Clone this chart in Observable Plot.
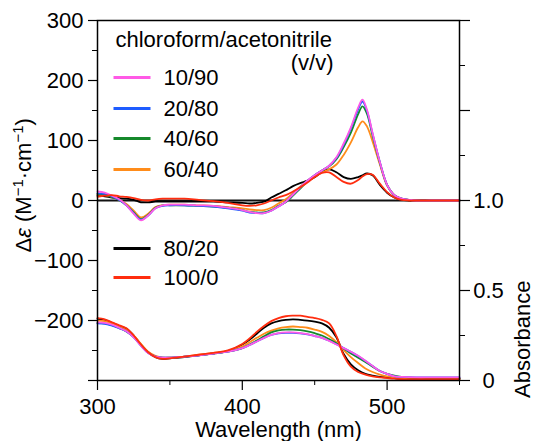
<!DOCTYPE html>
<html><head><meta charset="utf-8">
<script src="https://cdn.jsdelivr.net/npm/d3@7"></script>
<script src="https://cdn.jsdelivr.net/npm/@observablehq/plot@0.6"></script>
<style>
html,body{margin:0;padding:0;background:#fff;}
</style></head>
<body><div id="chart"></div>
<script>
// ---------------- data ----------------
const seriesNames = ["10/90", "20/80", "40/60", "60/40", "80/20", "100/0"];
const seriesColors = ["#ff5ae6", "#1e5cff", "#15892b", "#ff8c1a", "#000000", "#ff2d0f"];

// CD spectra (Δε, M^-1 cm^-1)
const wavelengthsCD = [300,305,310,315,320,325,330,335,340,345,350,360,370,380,390,400,405,410,415,420,425,430,435,440,445,450,455,460,465,470,475,480,483,486,490,495,500,505,510,515,520,530,540,550];
const cd_10_90 = [15,13,8,2,-8,-22,-33,-25,-13,-8,-7,-7,-8,-9,-12,-16,-19,-21,-21,-17,-10,-2,10,22,33,42,50,58,72,95,122,155,168,152,112,64,26,9,3,1,0,0,0,0];
const cd_20_80 = [12,11,7,1,-8,-21,-32,-25,-13,-9,-8,-8,-9,-10,-13,-17,-20,-21,-21,-17,-10,-2,10,22,33,42,50,58,71,93,120,152,165,150,111,64,26,9,3,1,0,0,0,0];
const cd_40_60 = [11,10,6,1,-8,-20,-31,-24,-12,-8,-8,-8,-9,-10,-12,-16,-19,-20,-20,-16,-9,-3,8,20,32,42,50,57,69,89,113,144,157,145,108,63,26,9,3,1,0,0,0,0];
const cd_60_40 = [10,9,6,1,-6,-17,-28,-22,-11,-8,-7,-7,-8,-9,-11,-13,-15,-16,-16,-12,-5,2,12,23,33,41,47,52,60,76,97,122,132,124,98,60,25,9,3,1,0,0,0,0];
const cd_80_20 = [8,7,5,4,3,1,-3,-3,-2,-2,-2,-2,-2,-2,-3,-4,-5,-4,-2,5,11,17,24,29,33,39,47,52,47,39,36,39,42,45,42,26,13,5,1,0,0,0,0,0];
const cd_100_0 = [6,8,9,7,6,4,1,0,2,3,3,3,1,-1,-4,-8,-9,-8,-5,0,5,9,15,22,30,39,46,47,39,31,28,34,40,44,43,28,14,5,1,0,0,0,0,0];

// Absorption spectra (absorbance)
const wavelengthsAbs = [300,305,310,315,320,325,330,335,340,345,350,360,370,380,390,400,405,410,415,420,425,430,435,440,445,450,455,460,465,470,475,480,485,490,495,500,505,510,520,530,540,550];
const abs_10_90 = [.323,.320,.310,.293,.273,.240,.193,.153,.133,.127,.127,.133,.140,.150,.160,.180,.197,.217,.237,.253,.263,.267,.267,.263,.257,.247,.237,.220,.200,.180,.160,.137,.110,.080,.053,.037,.023,.020,.017,.017,.017,.017];
const abs_20_80 = [.317,.314,.305,.290,.272,.240,.193,.153,.133,.127,.127,.133,.140,.150,.160,.180,.197,.217,.237,.253,.262,.265,.265,.262,.256,.247,.237,.221,.201,.180,.159,.136,.109,.080,.053,.037,.023,.020,.017,.017,.017,.017];
const abs_40_60 = [.320,.317,.307,.292,.273,.242,.196,.155,.133,.127,.127,.133,.140,.150,.160,.180,.200,.222,.245,.267,.278,.283,.283,.280,.273,.263,.250,.230,.207,.177,.150,.127,.103,.077,.053,.037,.027,.020,.013,.013,.013,.013];
const abs_60_40 = [.333,.330,.317,.300,.280,.250,.203,.160,.137,.127,.127,.133,.143,.153,.163,.190,.213,.237,.260,.277,.290,.297,.300,.297,.293,.283,.270,.247,.213,.170,.130,.097,.067,.047,.033,.023,.017,.013,.010,.010,.010,.010];
const abs_80_20 = [.343,.337,.320,.303,.287,.250,.200,.157,.130,.120,.123,.130,.140,.150,.163,.200,.227,.260,.293,.317,.330,.337,.340,.337,.333,.327,.317,.293,.240,.147,.090,.057,.037,.027,.020,.017,.013,.010,.010,.010,.010,.010];
const abs_100_0 = [.347,.340,.323,.307,.290,.250,.200,.157,.130,.120,.123,.133,.143,.153,.167,.203,.233,.270,.303,.330,.347,.357,.360,.360,.353,.347,.337,.317,.247,.140,.077,.047,.033,.023,.017,.013,.010,.007,.007,.007,.007,.007];

// axis ticks
const xTicksMajor = [300, 400, 500];
const xTicksMinor = [350, 450, 550];
const yTicksMajor = [-300, -200, -100, 0, 100, 200, 300];
const yTickLabels = ["", "\u2212200", "\u2212100", "0", "100", "200", "300"];
const yTicksMinor = [-250, -150, -50, 50, 150, 250];
const absTicksMajor = [0, 0.5, 1.0, 1.5, 2.0];
const absTickLabels = ["0", "0.5", "1.0", "", ""];
const absTicksMinor = [0.25, 0.75, 1.25, 1.75];

const legendTitle = "chloroform/acetonitrile";
const legendSubtitle = "(v/v)";
const xLabel = "Wavelength (nm)";
const yLabel = "Δε (M−1·cm−1)";
const y2Label = "Absorbance";

// ---------------- build ----------------
const cdSeries = [cd_10_90, cd_20_80, cd_40_60, cd_60_40, cd_80_20, cd_100_0];
const absSeries = [abs_10_90, abs_20_80, abs_40_60, abs_60_40, abs_80_20, abs_100_0];
// absorbance axis: 0 at Δε = -300, 1.0 at Δε = 0
const absToY = a => 300 * a - 300;

const yFmt = d => {
  const i = yTicksMajor.indexOf(d);
  return i >= 0 ? yTickLabels[i] : "";
};
const absFmt = d => {
  const i = absTicksMajor.findIndex(a => Math.abs(absToY(a) - d) < 1e-6);
  return i >= 0 ? absTickLabels[i] : "";
};

const drawOrder = [4, 3, 2, 1, 0, 5];
const lineMarks = [];
for (const i of drawOrder) {
  const cdRows = wavelengthsCD.map((w, j) => ({w, v: cdSeries[i][j]}));
  const absRows = wavelengthsAbs.map((w, j) => ({w, v: absToY(absSeries[i][j])}));
  lineMarks.push(Plot.line(cdRows, {x: "w", y: "v", stroke: seriesColors[i], strokeWidth: 1.8, curve: "catmull-rom"}));
  lineMarks.push(Plot.line(absRows, {x: "w", y: "v", stroke: seriesColors[i], strokeWidth: 1.8, curve: "catmull-rom"}));
}

// legend layout (pixel offsets from the top-left of the frame)
const legendRowOffsets = [57, 88, 118, 149, 228, 257];
const swatch = {draw(ctx) { ctx.moveTo(-18.5, 0); ctx.lineTo(18.5, 0); }};
const legendMarks = [];
seriesNames.forEach((name, i) => {
  legendMarks.push(Plot.dot([0], {frameAnchor: "top-left", dx: 34.5, dy: legendRowOffsets[i], symbol: swatch, r: 10, fill: "none", stroke: seriesColors[i], strokeWidth: 3}));
  legendMarks.push(Plot.text([name], {frameAnchor: "top-left", dx: 66, dy: legendRowOffsets[i], text: d => d, textAnchor: "start", lineAnchor: "middle", fill: "black"}));
});
legendMarks.push(Plot.text([legendTitle], {frameAnchor: "top-left", dx: 18, dy: 11, text: d => d, textAnchor: "start", lineAnchor: "top", fill: "black"}));
legendMarks.push(Plot.text([legendSubtitle], {frameAnchor: "top-left", dx: 236, dy: 34, text: d => d, textAnchor: "end", lineAnchor: "top", fill: "black"}));

const chart = Plot.plot({
  width: 533,
  height: 441,
  marginLeft: 97,
  marginRight: 74,
  marginTop: 20,
  marginBottom: 61,
  x: {domain: [300, 550]},
  y: {domain: [-300, 300]},
  style: {fontFamily: "'Liberation Sans', Arial, Helvetica, sans-serif", fontSize: "22px", color: "black", background: "white", overflow: "visible"},
  marks: [
    Plot.ruleY([0], {stroke: "#111", strokeWidth: 2}),
    ...lineMarks,
    Plot.frame({stroke: "black", strokeWidth: 1.5}),
    // left axis
    Plot.axisY({ticks: yTicksMajor, tickSize: 9, tickPadding: 5, tickFormat: yFmt, strokeWidth: 1.2, fontSize: 22, label: null}),
    Plot.axisY({ticks: yTicksMinor, tickSize: 5, tickFormat: () => "", strokeWidth: 1, label: null}),
    // right axis (absorbance)
    Plot.axisY({anchor: "right", ticks: absTicksMajor.map(absToY), tickSize: 10, tickPadding: 19, textAnchor: "middle", tickFormat: absFmt, strokeWidth: 1.2, fontSize: 22, label: null}),
    Plot.axisY({anchor: "right", ticks: absTicksMinor.map(absToY), tickSize: 5, tickFormat: () => "", strokeWidth: 1, label: null}),
    // bottom axis
    Plot.axisX({ticks: xTicksMajor, tickSize: 10, tickPadding: 8, tickFormat: d => String(d), strokeWidth: 1.2, fontSize: 22, label: null}),
    Plot.axisX({ticks: xTicksMinor, tickSize: 5, tickFormat: () => "", strokeWidth: 1, label: null}),
    // axis titles
    Plot.text([xLabel], {frameAnchor: "bottom", dy: 41, text: d => d, lineAnchor: "top", fill: "black"}),
    Plot.text([yLabel], {frameAnchor: "left", dx: -74, dy: 52, rotate: -90, text: d => d, textAnchor: "start", lineAnchor: "middle", fill: "black"}),
    Plot.text([y2Label], {frameAnchor: "right", dx: 63, dy: 80, rotate: -90, text: d => d, lineAnchor: "middle", fill: "black"}),
    ...legendMarks
  ]
});
document.getElementById("chart").appendChild(chart);

// rich formatting of the Δε label: italic epsilon and superscripts
const ns = "http://www.w3.org/2000/svg";
chart.querySelectorAll("text").forEach(t => {
  if (t.textContent === yLabel) {
    t.textContent = "";
    const parts = [
      ["Δ", {}], ["ε", {"font-style": "italic"}], [" (M", {}],
      ["−1", {"font-size": "15px", dy: "-8"}], ["·cm", {"dy": "8"}],
      ["−1", {"font-size": "15px", dy: "-8"}], [")", {dy: "8"}]
    ];
    for (const [s, attrs] of parts) {
      const ts = document.createElementNS(ns, "tspan");
      for (const k in attrs) ts.setAttribute(k, attrs[k]);
      ts.textContent = s;
      t.appendChild(ts);
    }
  }
});
</script>
</body></html>
